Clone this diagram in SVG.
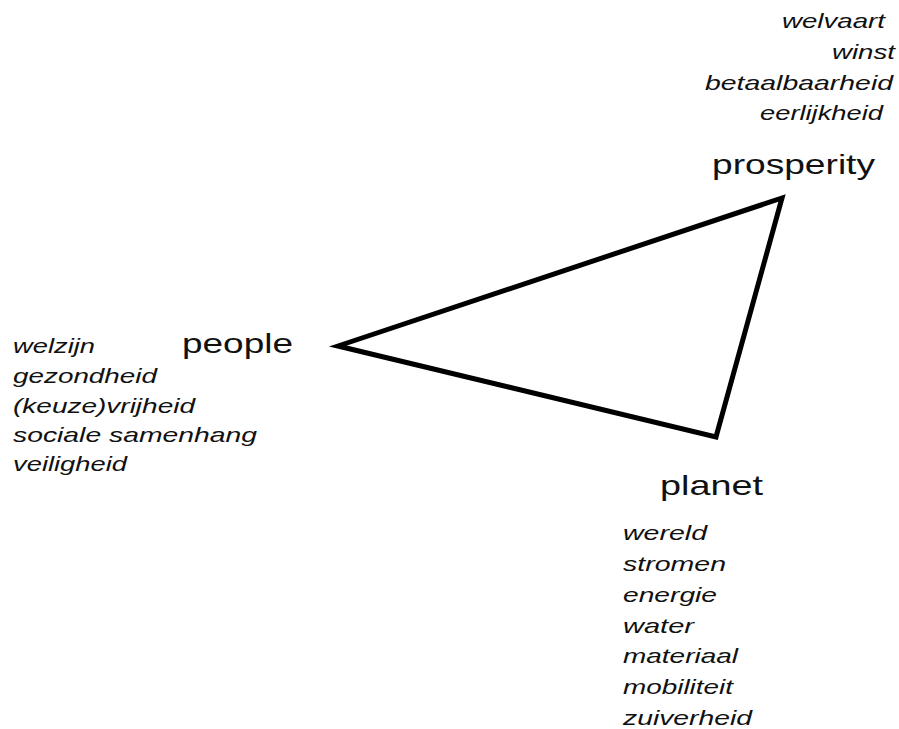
<svg xmlns="http://www.w3.org/2000/svg" width="899" height="729" viewBox="0 0 899 729">
<style>
.lbl{font-family:"Liberation Sans",Arial,sans-serif;font-size:28px;fill:#111}
.it{font-family:"Liberation Sans",Arial,sans-serif;font-size:21px;font-style:italic;fill:#111}
.edge{fill:none;stroke:#000;stroke-width:5;stroke-linejoin:miter}
</style>
<rect width="899" height="729" fill="#fff"/>
<g id="connectors">
<polygon class="edge" points="338,346 782,198 716,437"/>
</g>
<g id="prosperity">
<text class="it" x="782" y="28" textLength="103" lengthAdjust="spacingAndGlyphs">welvaart</text>
<text class="it" x="832" y="59" textLength="63" lengthAdjust="spacingAndGlyphs">winst</text>
<text class="it" x="705" y="90" textLength="188" lengthAdjust="spacingAndGlyphs">betaalbaarheid</text>
<text class="it" x="760" y="120" textLength="123" lengthAdjust="spacingAndGlyphs">eerlijkheid</text>
<text class="lbl" x="712" y="174" textLength="163" lengthAdjust="spacingAndGlyphs">prosperity</text>
</g>
<g id="people">
<text class="lbl" x="182" y="353" textLength="111" lengthAdjust="spacingAndGlyphs">people</text>
<text class="it" x="13" y="353" textLength="82" lengthAdjust="spacingAndGlyphs">welzijn</text>
<text class="it" x="13" y="383" textLength="144" lengthAdjust="spacingAndGlyphs">gezondheid</text>
<text class="it" x="13" y="413" textLength="182" lengthAdjust="spacingAndGlyphs">(keuze)vrijheid</text>
<text class="it" x="13" y="442" textLength="244" lengthAdjust="spacingAndGlyphs">sociale samenhang</text>
<text class="it" x="13" y="471" textLength="114" lengthAdjust="spacingAndGlyphs">veiligheid</text>
</g>
<g id="planet">
<text class="lbl" x="660" y="495" textLength="103" lengthAdjust="spacingAndGlyphs">planet</text>
<text class="it" x="623" y="540" textLength="84" lengthAdjust="spacingAndGlyphs">wereld</text>
<text class="it" x="623" y="571" textLength="103" lengthAdjust="spacingAndGlyphs">stromen</text>
<text class="it" x="623" y="602" textLength="94" lengthAdjust="spacingAndGlyphs">energie</text>
<text class="it" x="623" y="633" textLength="71" lengthAdjust="spacingAndGlyphs">water</text>
<text class="it" x="623" y="663" textLength="115" lengthAdjust="spacingAndGlyphs">materiaal</text>
<text class="it" x="623" y="694" textLength="110" lengthAdjust="spacingAndGlyphs">mobiliteit</text>
<text class="it" x="623" y="725" textLength="129" lengthAdjust="spacingAndGlyphs">zuiverheid</text>
</g>
</svg>
